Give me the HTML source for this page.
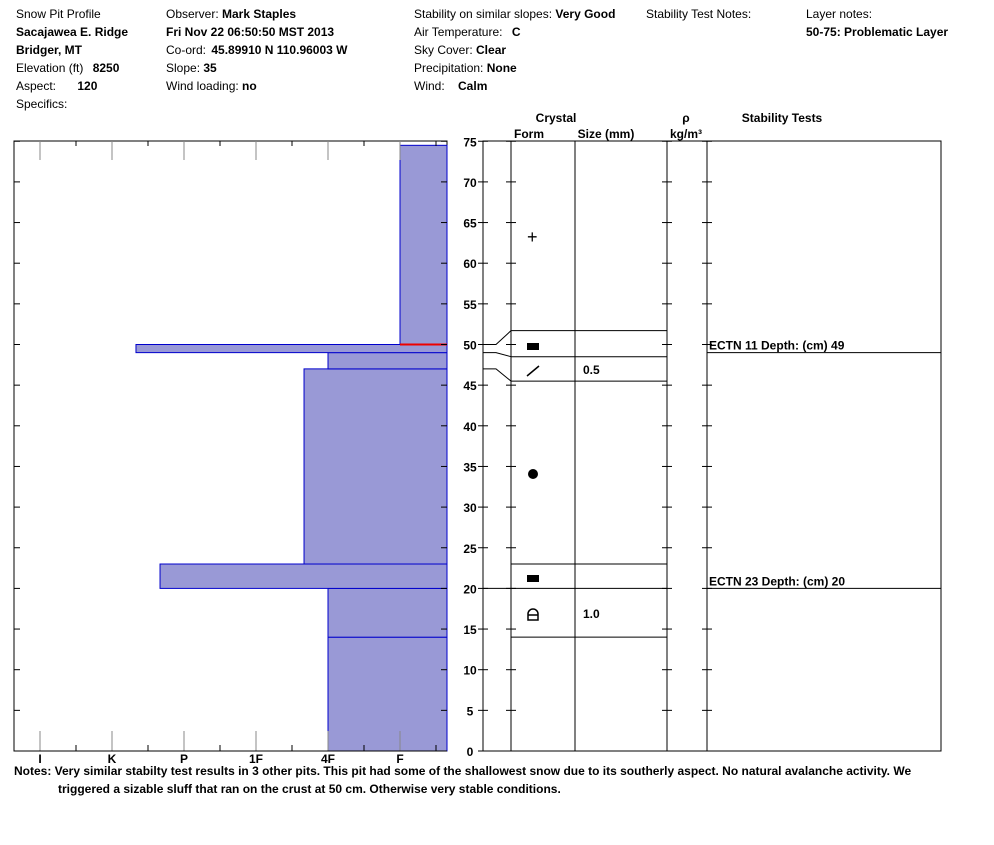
<!DOCTYPE html>
<html><head><meta charset="utf-8"><style>
body{margin:0;background:#fff;width:994px;height:840px;overflow:hidden}
svg{font-family:"Liberation Sans",Arial,sans-serif;font-size:12px}
.b{font-weight:bold}
</style></head><body>
<svg id="s" width="994" height="840">
<g>
<text x="16" y="18">Snow Pit Profile</text>
<text x="16" y="36" class="b">Sacajawea E. Ridge</text>
<text x="16" y="54" class="b">Bridger, MT</text>
<text x="16" y="72">Elevation (ft) <tspan class="b" dx="6">8250</tspan></text>
<text x="16" y="90">Aspect: <tspan class="b" dx="18">120</tspan></text>
<text x="16" y="108">Specifics:</text>
<text x="166" y="18">Observer: <tspan class="b">Mark Staples</tspan></text>
<text x="166" y="36" class="b">Fri Nov 22 06:50:50 MST 2013</text>
<text x="166" y="54">Co-ord: <tspan class="b" dx="2">45.89910 N 110.96003 W</tspan></text>
<text x="166" y="72">Slope: <tspan class="b">35</tspan></text>
<text x="166" y="90">Wind loading: <tspan class="b">no</tspan></text>
<text x="414" y="18">Stability on similar slopes: <tspan class="b">Very Good</tspan></text>
<text x="414" y="36">Air Temperature: <tspan class="b" dx="6">C</tspan></text>
<text x="414" y="54">Sky Cover: <tspan class="b">Clear</tspan></text>
<text x="414" y="72">Precipitation: <tspan class="b">None</tspan></text>
<text x="414" y="90">Wind: <tspan class="b" dx="10">Calm</tspan></text>
<text x="646" y="18">Stability Test Notes:</text>
<text x="806" y="18">Layer notes:</text>
<text x="806" y="36" class="b">50-75: Problematic Layer</text>
</g>
<g id="hard"></g>
<g id="right"></g>
<text x="14" y="775" class="b">Notes:  Very similar stabilty test results in 3 other pits. This pit had some of the shallowest snow due to its southerly aspect. No natural avalanche activity. We</text>
<text x="58" y="793" class="b">triggered a sizable sluff that ran on the crust at 50 cm. Otherwise very stable conditions.</text>
</svg>
<script>
const layerBottom=[0,14,20,23,47,49,50];
const layerTop=[14,20,23,47,49,50,74.5];
const layerHard=[4,4,1.667,3.667,4,1.333,5];
const hardLabels=["I","K","P","1F","4F","F"];
const depthTicks=[0,5,10,15,20,25,30,35,40,45,50,55,60,65,70,75];
const crystalBounds=[14,20,23,45.5,48.5,51.7];
const tests=[{name:"ECTN 11",depth:49},{name:"ECTN 23",depth:20}];
const NS="http://www.w3.org/2000/svg";
const y=d=>751-d*8.13, x=h=>40+h*72;
function mk(p,t,a){const e=document.createElementNS(NS,t);for(const k in a)e.setAttribute(k,a[k]);p.appendChild(e);return e;}
const H=document.getElementById('hard'),R=document.getElementById('right');
let fr=mk(H,'rect',{x:14,y:141,width:433,height:610,fill:'#fff',stroke:'#000'});


layerHard.forEach((h,i)=>{const r=mk(H,'rect',{x:x(h),y:y(layerTop[i]),width:447-x(h),height:y(layerBottom[i])-y(layerTop[i]),fill:'#9999d6',stroke:'#0000cc','stroke-width':1});

});
mk(H,'line',{x1:x(5),x2:447,y1:y(50),y2:y(50),stroke:'#e00','stroke-width':2});
for(let i=0;i<6;i++){mk(H,'line',{x1:x(i),x2:x(i),y1:141,y2:160,stroke:'#888'});mk(H,'line',{x1:x(i),x2:x(i),y1:731,y2:751,stroke:'#888'});
mk(H,'line',{x1:x(i+.5),x2:x(i+.5),y1:141,y2:146,stroke:'#000'});mk(H,'line',{x1:x(i+.5),x2:x(i+.5),y1:745,y2:751,stroke:'#000'});
const t=mk(H,'text',{x:x(i),y:763,'text-anchor':'middle','class':'b'});t.textContent=hardLabels[i];

}
mk(H,'line',{x1:14,x2:447,y1:751,y2:751,stroke:'#000'});
depthTicks.forEach(d=>{mk(H,'line',{x1:14,x2:20,y1:y(d),y2:y(d),stroke:'#000'});mk(H,'line',{x1:441,x2:447,y1:y(d),y2:y(d),stroke:'#000'});
const t=mk(H,'text',{x:470,y:y(d)+5,'text-anchor':'middle','class':'b'});t.textContent=d;


[483,511,667,707].forEach(c=>{mk(R,'line',{x1:c,x2:c+5,y1:y(d),y2:y(d),stroke:'#000'});mk(R,'line',{x1:c-5,x2:c,y1:y(d),y2:y(d),stroke:'#000'});});});
mk(R,'rect',{x:483,y:141,width:458,height:610,fill:'none',stroke:'#000'});
[511,575,667,707].forEach(c=>mk(R,'line',{x1:c,x2:c,y1:141,y2:751,stroke:'#000'}));
[["Crystal",556,122],["Form",529,138],["Size (mm)",606,138],["ρ",686,122],["kg/m³",686,138],["Stability Tests",782,122]].forEach(a=>{const t=mk(R,'text',{x:a[1],y:a[2],'text-anchor':'middle','class':'b'});t.textContent=a[0];

});
crystalBounds.forEach(d=>mk(R,'line',{x1:511,x2:667,y1:y(d),y2:y(d),stroke:'#000'}));
[[50,51.7],[49,48.5],[47,45.5],[20,20]].forEach(p=>mk(R,'polyline',{points:`483,${y(p[0])} 496,${y(p[0])} 511,${y(p[1])}`,fill:'none',stroke:'#000'}));
mk(R,'text',{x:527,y:243,'font-size':'18'}).textContent='+';
mk(R,'rect',{x:527,y:343,width:12,height:7,fill:'#000'});
mk(R,'line',{x1:527,y1:376,x2:539,y2:366,stroke:'#000','stroke-width':1.5});
mk(R,'circle',{cx:533,cy:474,r:5,fill:'#000'});
mk(R,'rect',{x:527,y:575,width:12,height:7,fill:'#000'});
mk(R,'path',{d:'M528,620 V614 A5,5 0 0 1 538,614 V620 Z M528,615 H538',fill:'none',stroke:'#000','stroke-width':1.5});
mk(R,'text',{x:583,y:374,'class':'b'}).textContent='0.5';
mk(R,'text',{x:583,y:618,'class':'b'}).textContent='1.0';
tests.forEach(t=>{mk(R,'line',{x1:707,x2:941,y1:y(t.depth),y2:y(t.depth),stroke:'#000'});
const e=mk(R,'text',{x:709,y:y(t.depth)-3,'class':'b'});e.textContent=t.name+'   Depth: (cm) '+t.depth;

});
</script>
</body></html>
